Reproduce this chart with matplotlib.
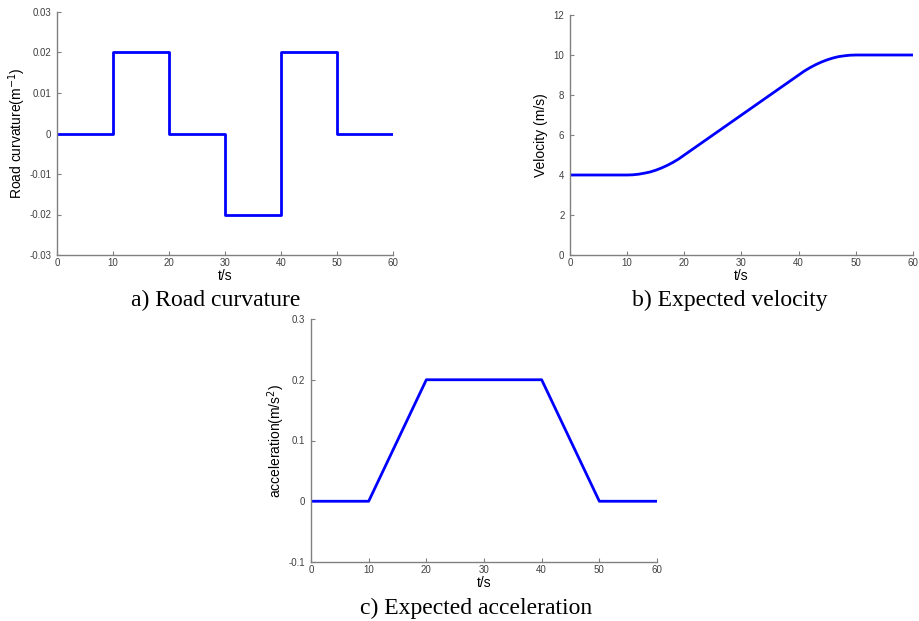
import matplotlib
matplotlib.use("Agg")
import matplotlib.pyplot as plt

plt.rcParams['font.family'] = ['Liberation Sans', 'DejaVu Sans']

# a) road curvature (step profile)
t_curv = [0, 10, 10, 20, 20, 30, 30, 40, 40, 50, 50, 60]
curv = [0, 0, 0.02, 0.02, 0, 0, -0.02, -0.02, 0.02, 0.02, 0, 0]

# b) expected velocity
t_vel = [0, 2, 4, 6, 8, 10, 11, 12, 13, 14, 15, 16, 17, 18, 19, 20, 22, 24, 26, 28,
         30, 32, 34, 36, 38, 40, 41, 42, 43, 44, 45, 46, 47, 48, 49, 50, 52, 55, 58, 60]
vel = [4.0, 4.0, 4.0, 4.0, 4.0, 4.0, 4.01, 4.04, 4.09, 4.15, 4.24, 4.35, 4.48, 4.63, 4.8, 5.0,
       5.4, 5.8, 6.2, 6.6, 7.0, 7.4, 7.8, 8.2, 8.6, 9.0, 9.2, 9.37, 9.52, 9.65, 9.76, 9.85,
       9.92, 9.96, 9.99, 10.0, 10.0, 10.0, 10.0, 10.0]

# c) expected acceleration
t_acc = [0, 10, 20, 40, 50, 60]
acc = [0, 0, 0.2, 0.2, 0, 0]

x_ticks = [0, 10, 20, 30, 40, 50, 60]
curv_ticks = [-0.03, -0.02, -0.01, 0, 0.01, 0.02, 0.03]
curv_labels = ['-0.03', '-0.02', '-0.01', '0', '0.01', '0.02', '0.03']
vel_ticks = [0, 2, 4, 6, 8, 10, 12]
acc_ticks = [-0.1, 0, 0.1, 0.2, 0.3]
acc_labels = ['-0.1', '0', '0.1', '0.2', '0.3']

fig = plt.figure(figsize=(9.2, 6.21), dpi=100)

ax1 = fig.add_axes([57 / 920, 1 - 255 / 621, 336 / 920, 243 / 621])
ax2 = fig.add_axes([570 / 920, 1 - 255 / 621, 343 / 920, 240 / 621])
ax3 = fig.add_axes([311 / 920, 1 - 562 / 621, 346 / 920, 243 / 621])


def style(ax):
    ax.spines['top'].set_visible(False)
    ax.spines['right'].set_visible(False)
    for s in ['left', 'bottom']:
        ax.spines[s].set_color('#808080')
        ax.spines[s].set_linewidth(1.0)
    ax.tick_params(direction='in', length=3, width=0.8, color='#808080',
                   labelsize=7, labelcolor='#404040', pad=2)
    ax.tick_params(axis='y', pad=4)
    ax.set_xlim(0, 60)
    ax.set_xticks(x_ticks)
    ax.set_xlabel('t/s', fontsize=10, labelpad=1)


ax1.plot(t_curv, curv, color='#0000ff', linewidth=2)
style(ax1)
ax1.set_ylim(-0.03, 0.03)
ax1.set_yticks(curv_ticks)
ax1.set_yticklabels(curv_labels)
ax1.set_ylabel('Road curvature(m$^{-1}$)', fontsize=10, labelpad=1)

ax2.plot(t_vel, vel, color='#0000ff', linewidth=2)
style(ax2)
ax2.set_ylim(0, 12)
ax2.set_yticks(vel_ticks)
ax2.set_ylabel('Velocity (m/s)', fontsize=10, labelpad=4)

ax3.plot(t_acc, acc, color='#0000ff', linewidth=2)
style(ax3)
ax3.set_ylim(-0.1, 0.3)
ax3.set_yticks(acc_ticks)
ax3.set_yticklabels(acc_labels)
ax3.set_ylabel('acceleration(m/s$^{2}$)', fontsize=10, labelpad=1)

cap = dict(fontsize=17, family='Liberation Serif', ha='center', va='center')
fig.text(216 / 920, 1 - 300 / 621, 'a) Road curvature', **cap)
fig.text(730 / 920, 1 - 300 / 621, 'b) Expected velocity', **cap)
fig.text(476 / 920, 1 - 608 / 621, 'c) Expected acceleration', **cap)

fig.savefig('out.png', dpi=100)
